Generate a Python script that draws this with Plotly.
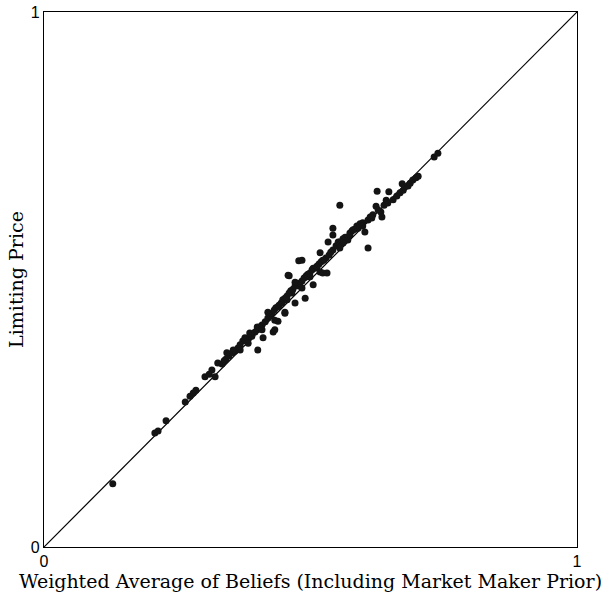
import plotly.graph_objects as go

# Weighted average of beliefs (x) vs limiting price (y)
belief_avg = [
    0.129, 0.208, 0.214, 0.229, 0.265, 0.274, 0.280, 0.285, 0.302, 0.321,
    0.334, 0.341, 0.347, 0.353, 0.358, 0.364, 0.368, 0.373, 0.379, 0.385,
    0.390, 0.396, 0.400, 0.405, 0.409, 0.411, 0.401, 0.415, 0.420, 0.424,
    0.428, 0.420, 0.432, 0.435, 0.439, 0.430, 0.441, 0.445, 0.448, 0.452,
    0.452, 0.456, 0.460, 0.460, 0.463, 0.467, 0.471, 0.475, 0.471, 0.478,
    0.480, 0.484, 0.488, 0.490, 0.492, 0.495, 0.499, 0.505, 0.503, 0.508,
    0.512, 0.518, 0.516, 0.520, 0.525, 0.529, 0.523, 0.535, 0.542, 0.538,
    0.478, 0.505, 0.542, 0.542, 0.533, 0.552, 0.548, 0.555, 0.561, 0.565,
    0.570, 0.574, 0.578, 0.583, 0.587, 0.555, 0.593, 0.598, 0.602, 0.608,
    0.608, 0.612, 0.617, 0.623, 0.625, 0.632, 0.627, 0.638, 0.645, 0.647,
    0.642, 0.655, 0.662, 0.668, 0.674, 0.672, 0.677, 0.683, 0.687, 0.692,
    0.698, 0.702, 0.732, 0.739, 0.326, 0.343, 0.355, 0.377, 0.386, 0.400,
    0.433, 0.433, 0.439, 0.458, 0.471, 0.512, 0.523, 0.495, 0.484, 0.465,
    0.447, 0.452, 0.589, 0.574, 0.518, 0.484, 0.531, 0.499, 0.580, 0.634,
    0.615, 0.561, 0.555, 0.598, 0.456, 0.409, 0.383, 0.368, 0.338, 0.315,
    0.310,
]
limiting_price = [
    0.118, 0.213, 0.217, 0.236, 0.271, 0.282, 0.288, 0.293, 0.318, 0.318,
    0.342, 0.351, 0.357, 0.363, 0.366, 0.372, 0.378, 0.385, 0.387, 0.391,
    0.394, 0.402, 0.406, 0.411, 0.415, 0.391, 0.368, 0.421, 0.428, 0.432,
    0.437, 0.439, 0.443, 0.447, 0.422, 0.402, 0.452, 0.456, 0.462, 0.437,
    0.465, 0.469, 0.507, 0.475, 0.479, 0.482, 0.488, 0.493, 0.456, 0.488,
    0.493, 0.497, 0.503, 0.465, 0.507, 0.510, 0.512, 0.490, 0.518, 0.521,
    0.525, 0.514, 0.529, 0.533, 0.536, 0.540, 0.536, 0.546, 0.555, 0.551,
    0.535, 0.521, 0.583, 0.596, 0.570, 0.570, 0.563, 0.570, 0.576, 0.579,
    0.574, 0.587, 0.591, 0.594, 0.600, 0.639, 0.604, 0.606, 0.589, 0.611,
    0.559, 0.617, 0.621, 0.637, 0.665, 0.626, 0.630, 0.639, 0.643, 0.664,
    0.648, 0.649, 0.656, 0.662, 0.667, 0.679, 0.673, 0.675, 0.680, 0.686,
    0.690, 0.693, 0.729, 0.736, 0.344, 0.363, 0.368, 0.391, 0.400, 0.411,
    0.406, 0.424, 0.449, 0.508, 0.495, 0.523, 0.512, 0.505, 0.484, 0.475,
    0.456, 0.439, 0.596, 0.583, 0.550, 0.536, 0.512, 0.505, 0.593, 0.617,
    0.615, 0.568, 0.559, 0.600, 0.462, 0.406, 0.381, 0.368, 0.348, 0.331,
    0.323,
]

diag_x = [0, 1]
diag_y = [0, 1]

tick_vals = [0, 1]
tick_text = ["0", "1"]

fig = go.Figure()
fig.add_trace(go.Scatter(x=diag_x, y=diag_y, mode="lines",
                         line=dict(color="black", width=1.2), hoverinfo="skip"))
fig.add_trace(go.Scatter(x=belief_avg, y=limiting_price, mode="markers",
                         marker=dict(color="#141414", size=7, line=dict(width=0))))

axis_common = dict(range=[0, 1], showgrid=False, zeroline=False, showline=True,
                   linecolor="black", linewidth=1.2, mirror=True, ticks="",
                   automargin=False,
                   tickvals=tick_vals, ticktext=tick_text,
                   tickfont=dict(family="Liberation Sans, Arial", size=16, color="black"))

fig.update_layout(
    width=613, height=605,
    margin=dict(l=44, r=36, t=12, b=58),
    paper_bgcolor="white", plot_bgcolor="white",
    showlegend=False,
    xaxis=dict(**axis_common,
               title=dict(text="Weighted Average of Beliefs (Including Market Maker Prior)",
                          font=dict(family="DejaVu Serif", size=19, color="black"),
                          standoff=4)),
    yaxis=dict(**axis_common,
               title=dict(text="Limiting Price",
                          font=dict(family="DejaVu Serif", size=19, color="black"),
                          standoff=2)),
)

fig.write_html("out.html",
               config={"displayModeBar": False},
               post_script="document.body.style.margin='0';document.body.style.overflow='hidden';")
